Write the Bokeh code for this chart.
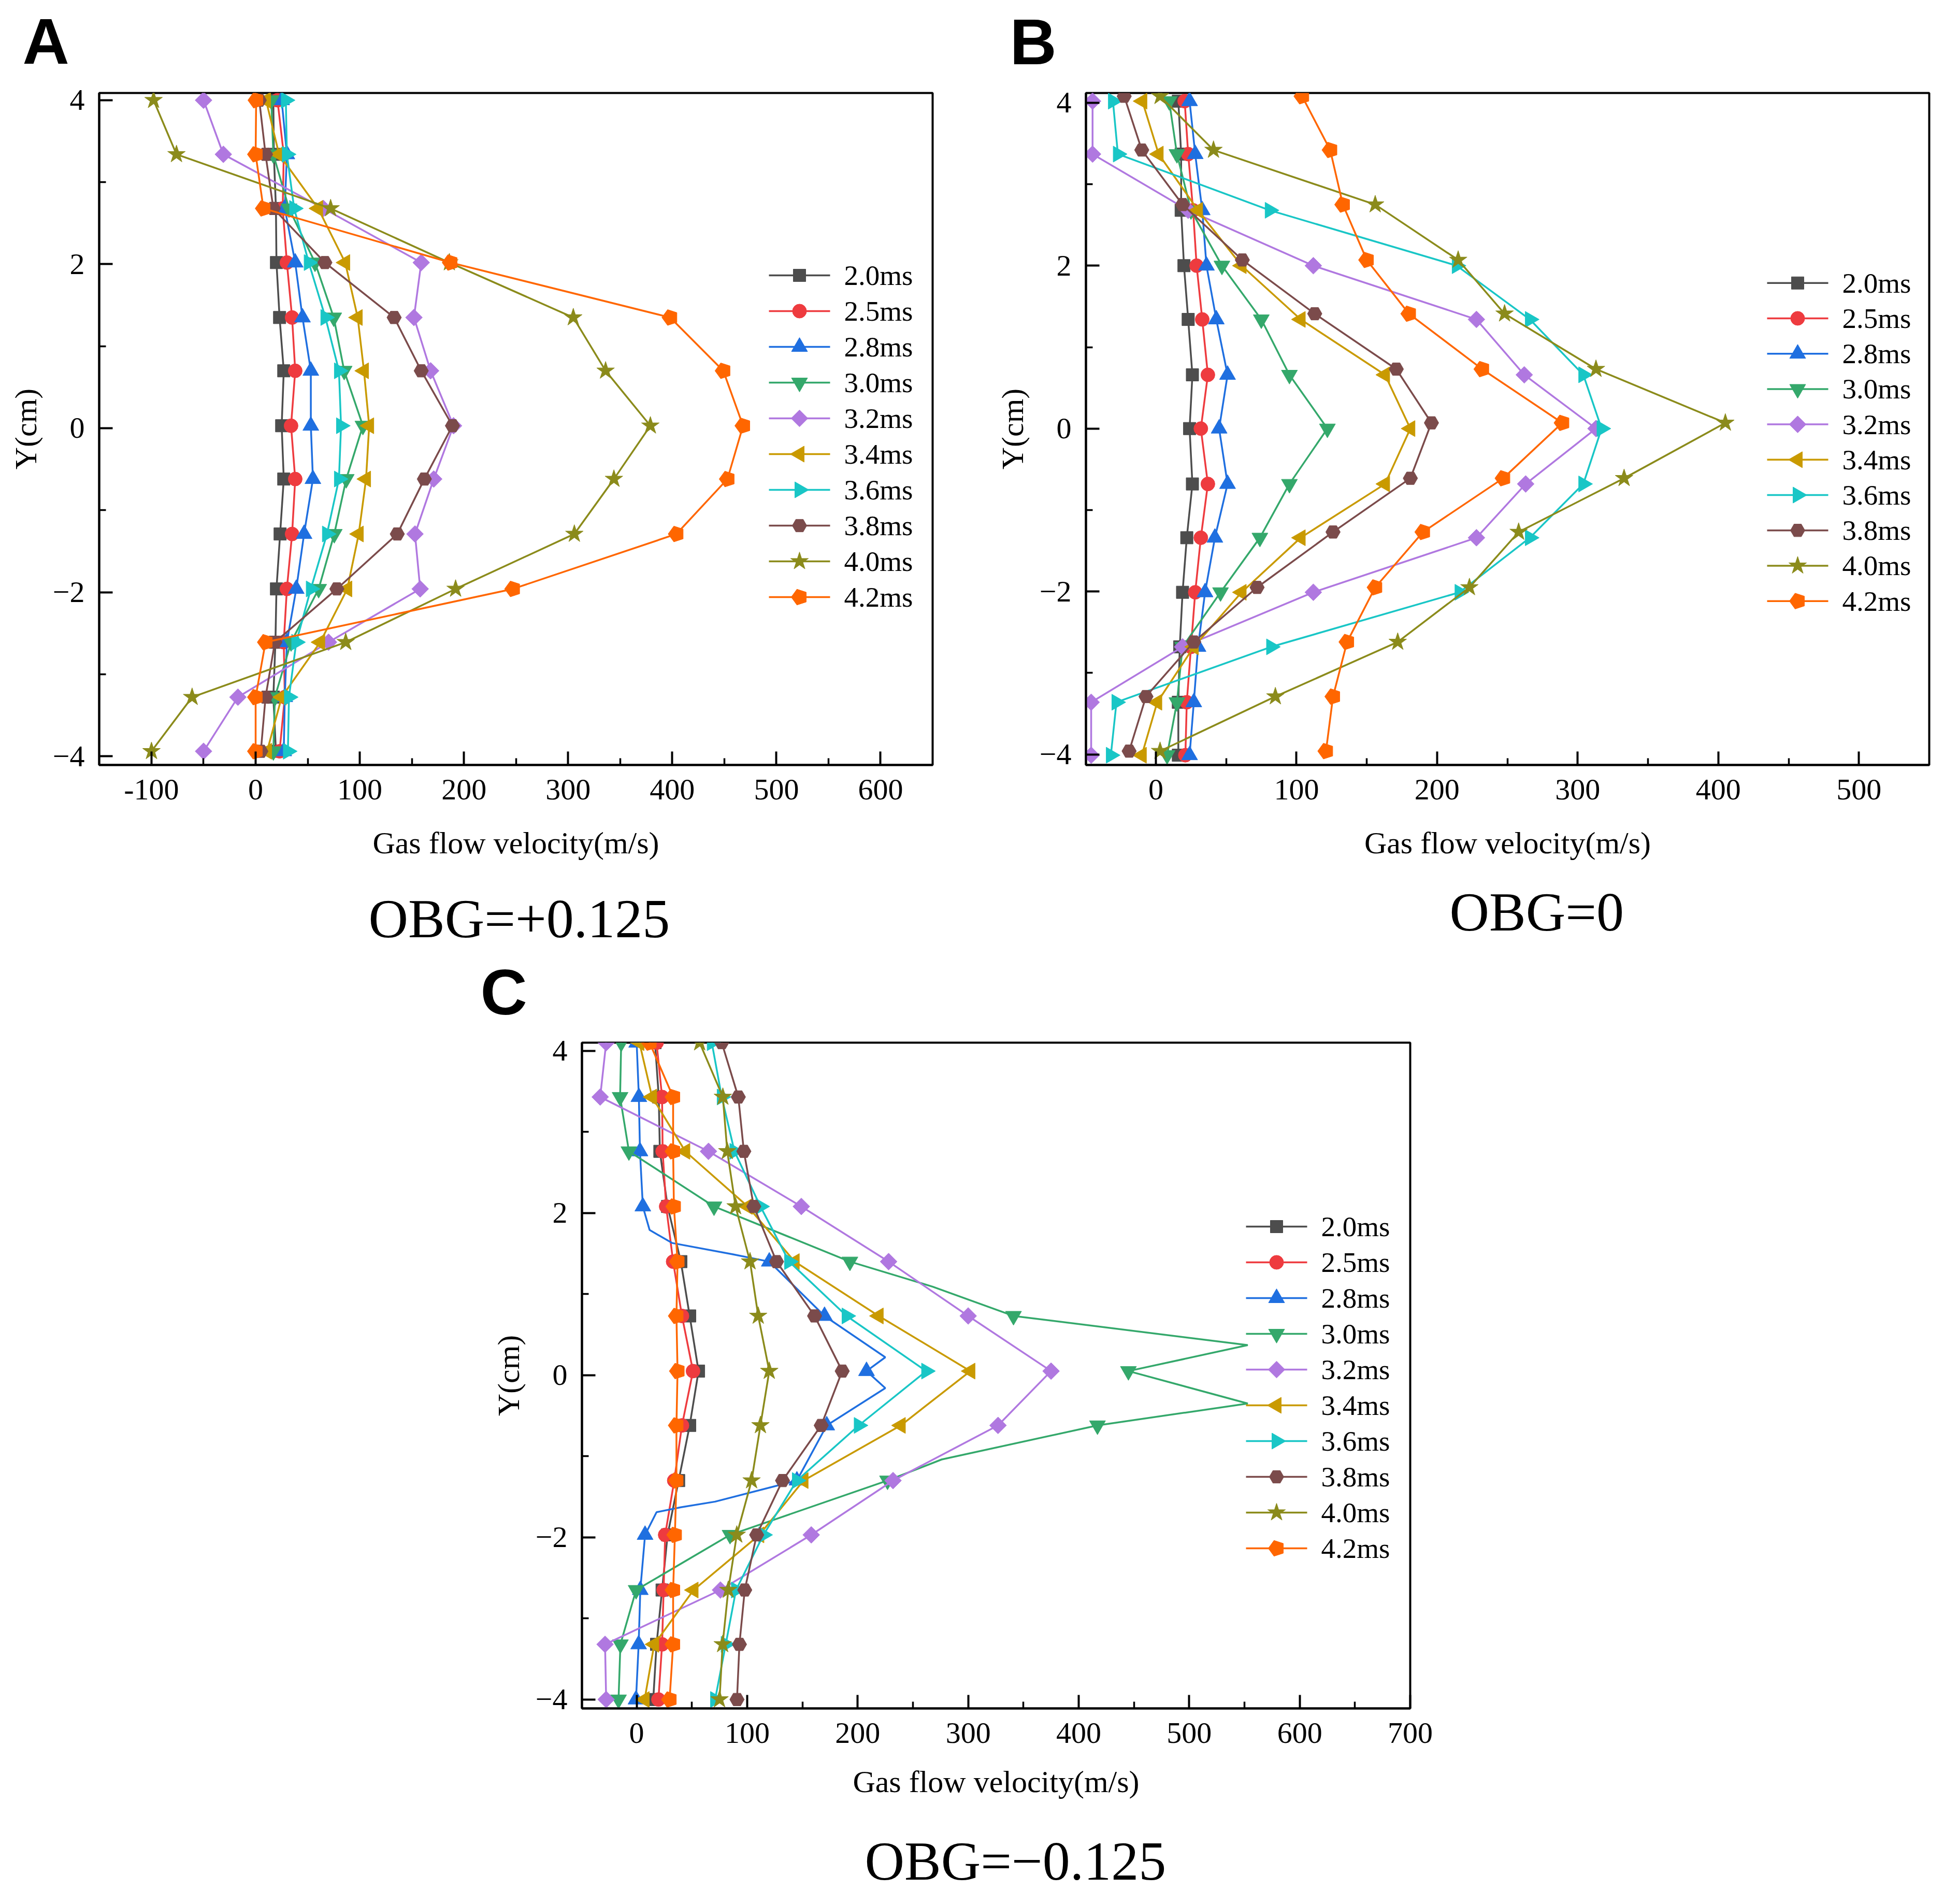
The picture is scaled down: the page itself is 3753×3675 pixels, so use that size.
import math

from bokeh.core.properties import value
from bokeh.embed import file_html
from bokeh.layouts import column, row
from bokeh.models import ColumnDataSource, FixedTicker, Range1d, Spacer, Title
from bokeh.plotting import figure
from bokeh.resources import INLINE

# series styling (same in the three panels)
labels = ["2.0ms", "2.5ms", "2.8ms", "3.0ms", "3.2ms",
          "3.4ms", "3.6ms", "3.8ms", "4.0ms", "4.2ms"]
colors = ["#4d4d4d", "#ee3b3f", "#1f6fe0", "#34a86b", "#b078e0",
          "#c99a00", "#19c6c6", "#7b4b4b", "#8b8b1b", "#ff6600"]
markers = ["square", "circle", "triangle", "inverted_triangle", "square",
           "triangle", "triangle", "hex", "star", "pentagon"]
angles = [0, 0, 0, 0, math.pi / 4, math.pi / 2, -math.pi / 2, 0, 0, 0]
sizes = [24, 27, 31, 31, 23, 31, 31, 28, 36, 30]

y_ticks = [-4, -2, 0, 2, 4]
y_minor = [-3, -1, 1, 3]

# ---- panel A : OBG=+0.125 ----
a_xticks = [-100, 0, 100, 200, 300, 400, 500, 600]
a_xminor = [-50, 50, 150, 250, 350, 450, 550]
a_y = [4.0, 3.34, 2.68, 2.02, 1.35, 0.70, 0.03, -0.62, -1.29, -1.96, -2.61, -3.28, -3.94]
a_20 = [17, 17.5, 19.5, 20, 23, 27, 25, 27, 23.5, 20, 19, 17, 19.5]
a_25 = [21, 27, 26, 30, 35, 38, 34, 38, 35, 30, 27, 28, 23]
a_28 = [25, 30, 28, 38, 45, 53, 53, 55, 46.5, 39, 30, 28, 27]
a_30 = [15, 17, 32, 57, 75, 85, 103, 87, 75.5, 60.5, 34, 18.5, 17]
a_32 = [-50, -31, 65, 159, 152, 168, 190, 171, 153, 158, 70, -17, -50]
a_34 = [10, 22.5, 60, 86, 98, 104, 109, 106, 99, 88, 62, 25, 11]
a_36 = [29, 30, 37, 51, 67, 80, 82, 80, 68.5, 53, 39, 32, 31]
a_38 = [3.5, 9.5, 17, 66.5, 133, 159, 189, 162, 136, 78, 18.5, 9.5, 5]
a_40 = [-98, -76, 72, 186, 305, 336, 379, 344, 306, 192, 86.5, -61, -100]
a_42 = [0.5, 0, 7.5, 187, 398, 449, 468, 453, 404, 247, 9.5, 0, 0]

# ---- panel B : OBG=0 ----
b_xticks = [0, 100, 200, 300, 400, 500]
b_xminor = [50, 150, 250, 350, 450]
b_y = [4.02, 3.37, 2.68, 2.0, 1.34, 0.66, 0.0, -0.68, -1.34, -2.01, -2.68, -3.36, -4.01]
b_y_late = [4.08, 3.42, 2.75, 2.07, 1.41, 0.73, 0.07, -0.61, -1.27, -1.95, -2.62, -3.29, -3.96]
b_20 = [16, 18, 18, 20, 23, 26, 24, 26, 22, 19, 17, 16, 16]
b_25 = [20.5, 23, 26.5, 29, 33, 37, 32, 37, 32, 28, 25, 22, 21]
b_28 = [24, 28, 33, 36, 43, 51, 45, 51, 42, 35, 30, 27, 24]
b_30 = [9.5, 15, 25, 47, 75, 95, 122, 95, 74, 46, 19, 15, 8]
b_32 = [-45, -45, 23, 112, 228, 262, 313, 263, 228, 112, 19, -46, -46]
b_34 = [-9.6, 2, 30, 61, 103, 163, 181, 163, 103, 61, 27, 1, -10]
b_36 = [-30.5, -27, 81, 214, 266, 304, 317, 304, 266, 216, 82, -28, -32]
b_38 = [-22.5, -10, 19, 61.5, 113, 171, 196, 181, 126, 72, 27, -7, -19]
b_40 = [3, 41, 156, 215, 248, 313, 405, 333, 258, 223, 172, 85, 3]
b_42 = [104, 124, 133, 150, 180, 232, 289, 247, 190, 156, 136, 126, 121]

# ---- panel C : OBG=-0.125 ----
c_xticks = [0, 100, 200, 300, 400, 500, 600, 700]
c_xminor = [50, 150, 250, 350, 450, 550, 650]
c_y = [4.10, 3.43, 2.76, 2.08, 1.40, 0.73, 0.05, -0.62, -1.30, -1.97, -2.65, -3.32, -4.0]
c_20 = [16.6, 20, 21, 28, 40, 48, 56, 48, 38, 28, 23, 18, 15]
c_25 = [18, 23, 23.5, 26.7, 33, 41, 51, 41, 34, 25.8, 24.4, 23, 19.7]
c_28 = [0, 2, 3, 5.6, 120, 170, 208, 172, 145, 7.6, 3.3, 1.8, -0.6]
c_30 = [-14, -15, -7, 70, 193, 341, 445, 417, 227, 84.5, -0.5, -14.7, -16.4]
c_32 = [-27.6, -33, 65, 149, 228, 300, 375, 327, 232, 158, 75.8, -28.6, -27.6]
c_34 = [2.5, 14, 44, 100.5, 143, 219, 302, 239, 151, 111, 51.5, 15.9, 7.2]
c_36 = [68, 77, 88.5, 112, 138, 190, 262, 201, 145, 114.7, 89.9, 80.6, 71]
c_38 = [77, 92, 97, 106, 126.6, 161, 186, 167, 132, 108.6, 97.8, 93, 90.8]
c_40 = [57, 78, 82, 89.5, 102.6, 110, 120, 112, 104, 90.6, 82.9, 77.8, 75]
c_42 = [11.7, 33, 33, 33.7, 37, 36, 37, 36, 36, 34.6, 33, 33, 29.8]
c_28_line_v = [0, 2, 3, 5.6, 11.7, 32, 87, 120, 170, 225, 208, 225, 172, 145, 71, 40, 18, 7.6, 3.3, 1.8, -0.6]
c_28_line_y = [4.10, 3.43, 2.76, 2.08, 1.79, 1.63, 1.49, 1.40, 0.73, 0.22, 0.05, -0.16, -0.62, -1.30,
               -1.56, -1.63, -1.69, -1.97, -2.65, -3.32, -4.0]
c_30_line_v = [-14, -15, -7, 70, 193, 268, 341, 553, 445, 553, 417, 276, 227, 84.5, -0.5, -14.7, -16.4]
c_30_line_y = [4.10, 3.43, 2.76, 2.08, 1.40, 1.09, 0.73, 0.37, 0.05, -0.35, -0.62, -1.04, -1.30,
               -1.97, -2.65, -3.32, -4.0]

SERIF = "Liberation Serif"


def make_panel(w, h, left, right, top, bottom, xr, yr, xticks, xminor, xlab_standoff):
    p = figure(width=w, height=h, x_range=Range1d(*xr), y_range=Range1d(*yr),
               output_backend="svg", toolbar_location=None,
               min_border_left=left, min_border_right=right,
               min_border_top=top, min_border_bottom=bottom)
    p.xgrid.visible = False
    p.ygrid.visible = False
    p.outline_line_color = "black"
    p.outline_line_width = 4
    p.outline_line_alpha = 1
    p.background_fill_color = "white"
    p.border_fill_color = "white"
    p.xaxis.ticker = FixedTicker(ticks=xticks, minor_ticks=xminor)
    p.yaxis.ticker = FixedTicker(ticks=y_ticks, minor_ticks=y_minor)
    p.xaxis.major_label_overrides = {t: str(t) for t in xticks}
    p.yaxis.major_label_overrides = {-4: "\u22124", -2: "\u22122"}
    p.xaxis.axis_label = "Gas flow velocity(m/s)"
    p.yaxis.axis_label = "Y(cm)"
    for ax in (p.xaxis[0], p.yaxis[0]):
        ax.axis_line_width = 4
        ax.axis_line_color = "black"
        ax.major_tick_line_width = 4
        ax.minor_tick_line_width = 3.5
        ax.major_tick_in = 26
        ax.major_tick_out = 0
        ax.minor_tick_in = 13
        ax.minor_tick_out = 0
        ax.major_label_text_font = SERIF
        ax.major_label_text_font_size = "58px"
        ax.major_label_text_color = "black"
        ax.axis_label_text_font = SERIF
        ax.axis_label_text_font_size = "60px"
        ax.axis_label_text_font_style = "normal"
        ax.axis_label_text_color = "black"
    p.xaxis.major_label_standoff = 28
    p.xaxis.axis_label_standoff = xlab_standoff
    p.yaxis.major_label_standoff = 28
    p.yaxis.axis_label_standoff = 16
    return p


def draw_markers(p, src, i):
    color = colors[i]
    if markers[i] == "pentagon":
        try:
            from bokeh.models import Ngon
            glyph = Ngon(x="v", y="y", radius=16, radius_units="screen", n=5,
                         angle=math.pi / 2, fill_color=color, line_color=color)
            return p.add_glyph(src, glyph)
        except Exception:
            return p.scatter("v", "y", source=src, marker="hex", size=sizes[i],
                             fill_color=color, line_color=color)
    return p.scatter("v", "y", source=src, marker=markers[i], size=sizes[i],
                     angle=angles[i], fill_color=color, line_color=color)


def add_series(p, vs, ys, i, line_v=None, line_y=None):
    lsrc = ColumnDataSource(dict(v=line_v if line_v is not None else vs,
                                 y=line_y if line_y is not None else ys))
    p.line("v", "y", source=lsrc, line_color=colors[i], line_width=3.5)
    draw_markers(p, ColumnDataSource(dict(v=vs, y=ys)), i)


def add_key(p, xr, yr, fw, fh, lx, ty):
    # legend drawn by hand so that rotated markers keep their shape;
    # lx, ty: left of the line sample and centre of the first row, in pixels
    # from the frame's bottom-left corner
    sx = (xr[1] - xr[0]) / fw
    sy = (yr[1] - yr[0]) / fh
    x0 = xr[0] + lx * sx
    x1 = xr[0] + (lx + 118) * sx
    xm = (x0 + x1) / 2
    xt = xr[0] + (lx + 145) * sx
    for i, lab in enumerate(labels):
        yy = yr[0] + (ty - 69 * i) * sy
        p.segment(x0=[x0], y0=[yy], x1=[x1], y1=[yy], line_color=colors[i], line_width=3.5)
        draw_markers(p, ColumnDataSource(dict(v=[xm], y=[yy])), i)
        p.text(x=[xt], y=[yy], text=[lab], text_font=value(SERIF), text_font_size="55px",
               text_baseline="middle", text_align="left", text_color="black")


def make_title(txt, offset, standoff, valign, font, style, size):
    try:
        return Title(text=txt, align="left", offset=offset, standoff=standoff,
                     vertical_align=valign, text_font=font, text_font_style=style,
                     text_font_size=size, text_color="black")
    except Exception:
        return Title(text=txt, align="left", offset=offset, standoff=0,
                     vertical_align=valign, text_font=font, text_font_style=style,
                     text_font_size=size, text_color="black")


def add_gap(p, standoff, place):
    p.add_layout(Title(text=" ", standoff=standoff, text_font_size="1px"), place)


def add_letter(p, txt, offset, standoff, place="above", valign="top"):
    p.add_layout(make_title(txt, offset, standoff, valign, "Liberation Sans",
                            "bold", "125px"), place)


def add_caption(p, txt, offset, standoff):
    p.add_layout(make_title(txt, offset, standoff, "top", SERIF, "normal",
                            "106px"), "below")


# panel A (also carries the letter of panel C in its bottom margin)
a_xr, a_yr = (-150.2, 650), (-4.107, 4.088)
pa = make_panel(1858, 1990, 191, 58, 179, 514, a_xr, a_yr, a_xticks, a_xminor, 48)
a_series = [a_20, a_25, a_28, a_30, a_32, a_34, a_36, a_38, a_40, a_42]
for i, s in enumerate(a_series):
    add_series(pa, s, a_y, i)
add_key(pa, a_xr, a_yr, 1609, 1297, 1293, 945)
add_gap(pa, 45, "above")
add_letter(pa, "A", -148, -39)
add_caption(pa, "OBG=+0.125", 520, 104)
add_letter(pa, "C", 736, -82, place="below", valign="top")

# panel B
b_xr, b_yr = (-49.7, 550), (-4.13, 4.12)
pb = make_panel(1886, 1990, 238, 20, 177, 501, b_xr, b_yr, b_xticks, b_xminor, 48)
b_series = [b_20, b_25, b_28, b_30, b_32, b_34, b_36, b_38, b_40, b_42]
for i, s in enumerate(b_series):
    add_series(pb, s, b_y_late if i >= 7 else b_y, i)
add_key(pb, b_xr, b_yr, 1628, 1312, 1315, 941)
add_gap(pb, 44, "above")
add_letter(pb, "B", -147, -39)
add_caption(pb, "OBG=0", 702, 78)

# panel C
c_xr, c_yr = (-49.5, 700), (-4.11, 4.10)
pc = make_panel(1889, 1685, 200, 90, 22, 378, c_xr, c_yr, c_xticks, c_xminor, 39)
c_series = [c_20, c_25, c_28, c_30, c_32, c_34, c_36, c_38, c_40, c_42]
for i, s in enumerate(c_series):
    if i == 2:
        add_series(pc, s, c_y, i, c_28_line_v, c_28_line_y)
    elif i == 3:
        add_series(pc, s, c_y, i, c_30_line_v, c_30_line_y)
    else:
        add_series(pc, s, c_y, i)
add_key(pc, c_xr, c_yr, 1599, 1285, 1282, 930)
add_gap(pc, 56, "below")
add_caption(pc, "OBG=\u22120.125", 546, 0)

page = column(row(pa, pb), row(Spacer(width=923, height=1685), pc))

open("out.html", "w").write(file_html(page, INLINE))
